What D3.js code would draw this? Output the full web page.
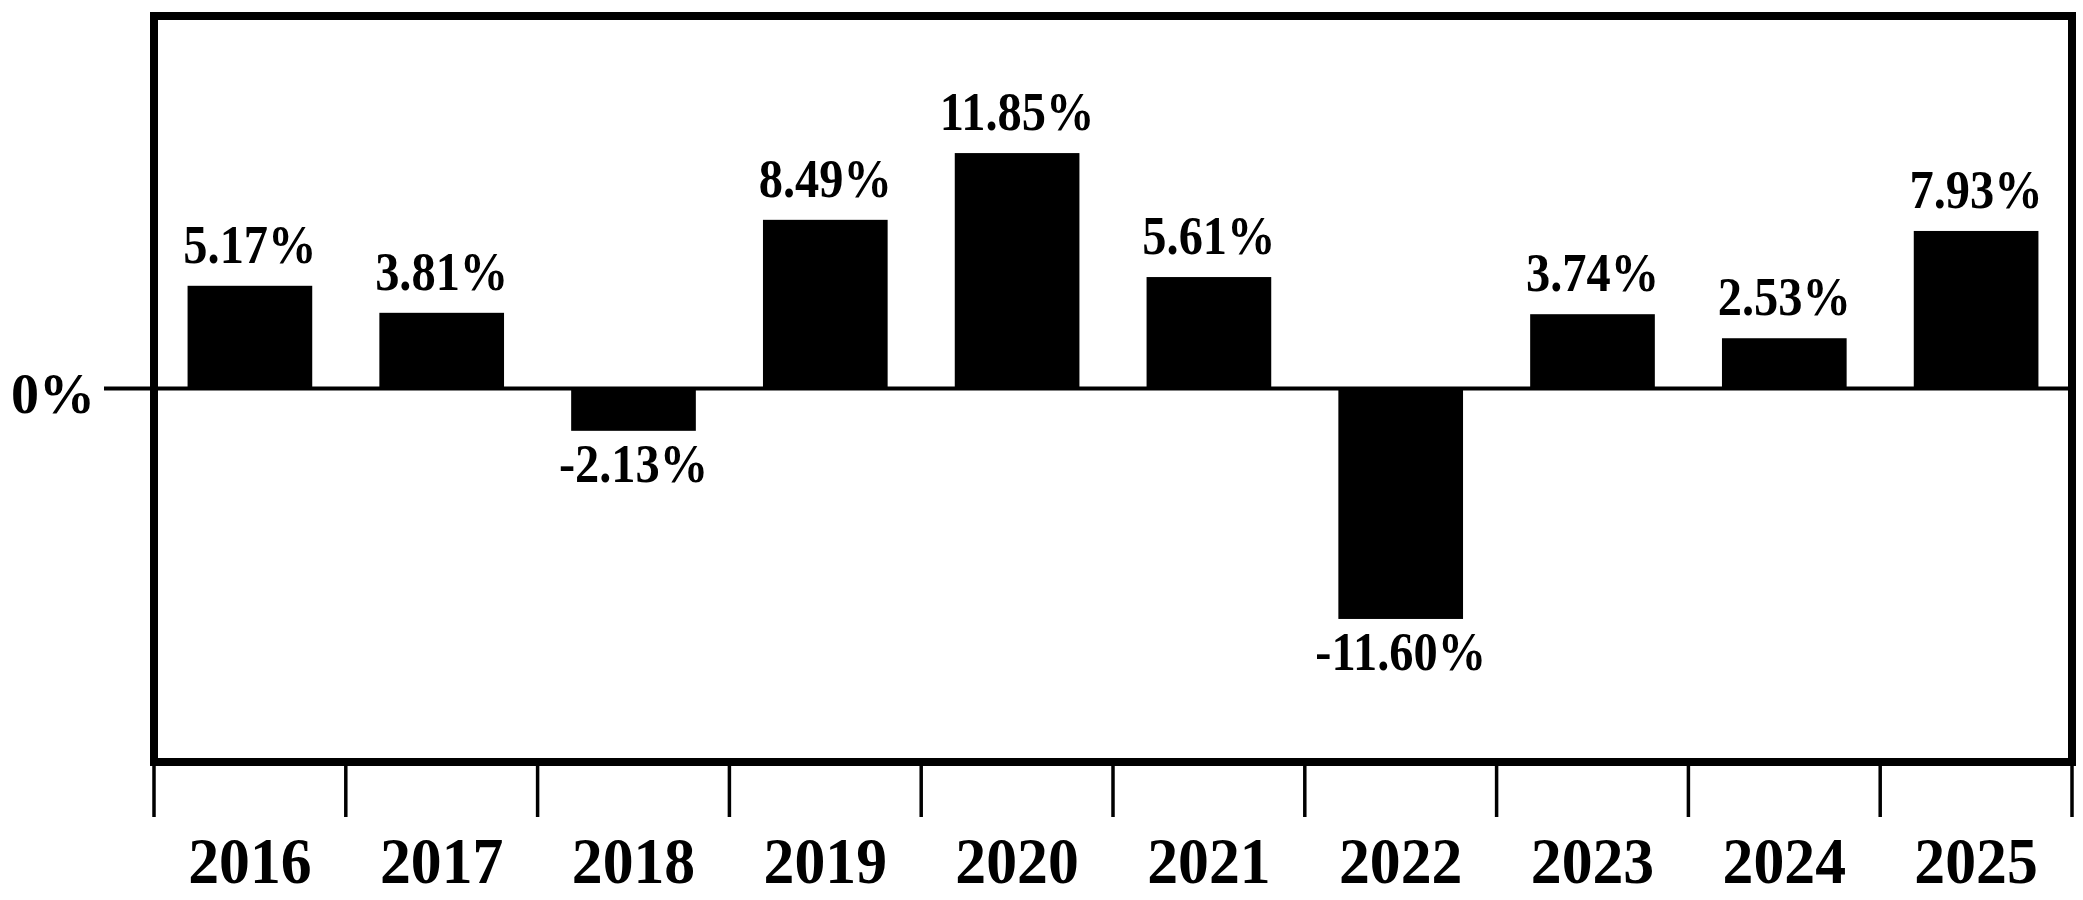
<!DOCTYPE html>
<html>
<head>
<meta charset="utf-8">
<script src="https://cdn.jsdelivr.net/npm/d3@7"></script>
<style>
  html, body { margin: 0; padding: 0; background: #fff; }
  svg { display: block; }
  text { font-family: "Liberation Serif", "Times New Roman", serif; font-weight: bold; fill: #000; }
</style>
</head>
<body>
<svg id="chart" width="2083" height="900"></svg>
<script>
// ---- data ----
const years = ["2016", "2017", "2018", "2019", "2020", "2021", "2022", "2023", "2024", "2025"];
const values = [5.17, 3.81, -2.13, 8.49, 11.85, 5.61, -11.60, 3.74, 2.53, 7.93];
const yTickValues = [0];
const yTickLabels = ["0%"];

// ---- layout ----
const W = 2083, H = 900;
const frame = { left: 154, right: 2072, top: 16, bottom: 762 };

const svg = d3.select("#chart");

const x = d3.scaleBand().domain(years).range([frame.left, frame.right]).padding(0);
const y = d3.scaleLinear().domain([-18.8, 18.75]).range([frame.bottom, frame.top]);
const barW = x.bandwidth() * 0.65;
const locale = d3.formatLocale({ decimal: ".", thousands: ",", grouping: [3], currency: ["$", ""], minus: "-" });
const fmt = locale.format(".2f");

// zero line (y axis tick) extends left of frame
svg.selectAll("line.ytick").data(yTickValues).join("line")
  .attr("class", "ytick")
  .attr("x1", 104).attr("x2", frame.right)
  .attr("y1", d => y(d)).attr("y2", d => y(d))
  .attr("stroke", "#000").attr("stroke-width", 4);

svg.selectAll("text.ylab").data(yTickValues).join("text")
  .attr("class", "ylab")
  .attr("text-anchor", "end")
  .attr("font-size", 56)
  .attr("transform", d => `translate(95, ${y(d) + 24})`)
  .text((d, i) => yTickLabels[i]);

// bars
svg.selectAll("rect.bar").data(values).join("rect")
  .attr("class", "bar")
  .attr("x", (d, i) => x(years[i]) + (x.bandwidth() - barW) / 2)
  .attr("width", barW)
  .attr("y", d => y(Math.max(0, d)))
  .attr("height", d => Math.abs(y(d) - y(0)))
  .attr("fill", "#000");

// value labels
svg.selectAll("text.val").data(values).join("text")
  .attr("class", "val")
  .attr("text-anchor", "middle")
  .attr("font-size", 55)
  .attr("transform", (d, i) => {
    const cx = x(years[i]) + x.bandwidth() / 2;
    const by = d >= 0 ? y(d) - 23 : y(d) + 51;
    return `translate(${cx}, ${by}) scale(0.88, 1)`;
  })
  .text(d => fmt(d) + "%");

// frame
svg.append("rect")
  .attr("x", frame.left).attr("y", frame.top)
  .attr("width", frame.right - frame.left)
  .attr("height", frame.bottom - frame.top)
  .attr("fill", "none").attr("stroke", "#000").attr("stroke-width", 8);

// x ticks at band boundaries
const tickXs = years.map(yr => x(yr)).concat([x.range()[1]]);
svg.selectAll("line.xtick").data(tickXs).join("line")
  .attr("class", "xtick")
  .attr("x1", d => d).attr("x2", d => d)
  .attr("y1", frame.bottom + 4).attr("y2", 817)
  .attr("stroke", "#000").attr("stroke-width", 3.5);

// year labels
svg.selectAll("text.year").data(years).join("text")
  .attr("class", "year")
  .attr("text-anchor", "middle")
  .attr("font-size", 65)
  .attr("transform", d => `translate(${x(d) + x.bandwidth() / 2}, 883) scale(0.95, 1)`)
  .text(d => d);
</script>
</body>
</html>
